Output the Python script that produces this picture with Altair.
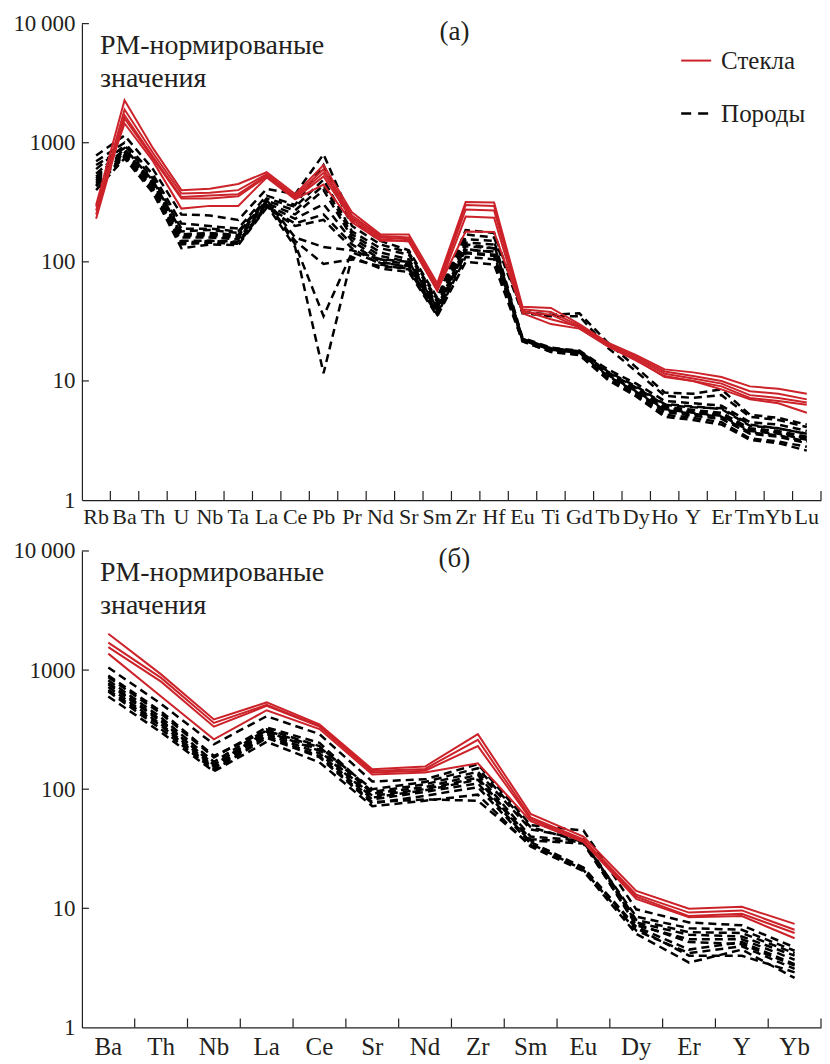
import altair as alt
import pandas as pd

# ---------------- data ----------------
A_CATS = ["Rb", "Ba", "Th", "U", "Nb", "Ta", "La", "Ce", "Pb", "Pr", "Nd", "Sr", "Sm",
          "Zr", "Hf", "Eu", "Ti", "Gd", "Tb", "Dy", "Ho", "Y", "Er", "Tm", "Yb", "Lu"]
B_CATS = ["Ba", "Th", "Nb", "La", "Ce", "Sr", "Nd", "Zr", "Sm", "Eu", "Dy", "Er", "Y", "Yb"]

# panel (а) — glasses (Стекла)
A_GLASS = {
    "g1": [300, 2270, 900, 400, 410, 450, 565, 370, 650, 260, 170, 170, 66, 318, 315, 42, 41, 30, 21, 16.5, 12.5, 11.8, 10.8, 9.0, 8.6, 7.8],
    "g2": [270, 1900, 820, 375, 380, 400, 545, 355, 600, 245, 165, 160, 62, 300, 295, 40, 38, 29, 20.5, 16, 12, 11, 10, 8.2, 7.8, 7.0],
    "g3": [250, 1700, 760, 350, 360, 370, 530, 345, 560, 235, 160, 155, 60, 275, 270, 39, 33, 28.5, 20, 15.5, 11.5, 10.5, 9.5, 7.6, 7.2, 6.6],
    "g4": [290, 1450, 700, 280, 295, 295, 510, 335, 445, 215, 150, 150, 57, 240, 235, 37, 30, 27.5, 19.5, 14.8, 11, 10, 9, 7.2, 6.8, 6.3],
    "g5": [230, 1600, 740, 340, 340, 355, 520, 340, 520, 225, 155, 148, 58, 180, 178, 38, 36, 28, 19.8, 15, 10.8, 10, 8.5, 7.0, 6.5, 5.4],
}
# panel (а) — rocks (Породы)
A_ROCK = {
    "r1": [780, 1150, 600, 250, 245, 225, 410, 370, 800, 225, 150, 125, 50, 185, 175, 38, 36, 37, 21, 13, 8.0, 7.8, 8.5, 5.2, 4.9, 4.3],
    "r2": [700, 1000, 540, 210, 200, 190, 360, 300, 650, 200, 140, 120, 48, 170, 160, 37, 35, 35, 19, 12, 7.5, 7.2, 7.6, 5.0, 4.7, 4.1],
    "r3": [600, 950, 500, 190, 190, 180, 340, 290, 490, 180, 130, 115, 46, 155, 150, 23, 19, 18, 12.5, 9.5, 6.8, 6.5, 6.2, 4.5, 4.3, 3.8],
    "r4": [550, 880, 470, 170, 170, 165, 325, 270, 440, 170, 120, 105, 44, 145, 140, 22.5, 18.8, 17.8, 12, 9.0, 6.4, 6.1, 5.8, 4.2, 4.0, 3.6],
    "r5": [500, 830, 450, 160, 160, 155, 310, 250, 400, 160, 112, 100, 42, 135, 130, 22.5, 18.6, 17.6, 11.6, 8.6, 6.1, 5.7, 5.4, 4.0, 3.8, 3.4],
    "r6": [460, 790, 420, 150, 150, 148, 300, 230, 305, 150, 105, 95, 40, 126, 122, 22, 18.3, 17.3, 11.2, 8.2, 5.8, 5.4, 5.1, 3.8, 3.6, 3.2],
    "r7": [430, 760, 400, 140, 145, 142, 290, 210, 250, 140, 100, 90, 38, 118, 112, 22, 18, 17, 10.8, 7.9, 5.5, 5.1, 4.8, 3.6, 3.4, 3.0],
    "r8": [400, 740, 380, 130, 140, 138, 285, 200, 225, 130, 95, 86, 36, 110, 105, 21.5, 17.6, 16.6, 10.4, 7.6, 5.2, 4.9, 4.5, 3.3, 3.1, 2.8],
    "r9": [650, 900, 480, 180, 185, 175, 330, 160, 133, 125, 105, 100, 41, 140, 130, 22.5, 18.5, 17.5, 11.8, 8.8, 6.3, 6.0, 5.9, 4.3, 4.0, 3.6],
    "r10": [480, 820, 440, 165, 165, 160, 315, 150, 96, 105, 92, 88, 37, 120, 115, 22, 18.2, 17.2, 11, 8.1, 5.7, 5.3, 5.0, 3.7, 3.5, 3.1],
    "r11": [520, 860, 460, 170, 175, 168, 320, 140, 35, 120, 98, 92, 39, 128, 120, 22.2, 18.4, 17.4, 11.4, 8.4, 5.9, 5.5, 5.2, 3.9, 3.7, 3.3],
    "r12": [440, 780, 410, 145, 150, 145, 300, 133, 11.6, 110, 88, 82, 35, 100, 95, 21.5, 17.5, 16.5, 10.2, 7.4, 5.0, 4.7, 4.3, 3.2, 3.0, 2.6],
}

# panel (б) — glasses
B_GLASS = {
    "g1": [2020, 920, 385, 535, 350, 147, 155, 290, 62, 40, 14, 9.9, 10.3, 7.4],
    "g2": [1700, 860, 360, 510, 340, 142, 148, 260, 58, 38, 13, 9.2, 9.6, 6.6],
    "g3": [1560, 800, 335, 500, 335, 138, 143, 230, 56, 37, 12.5, 8.6, 9.0, 6.2],
    "g4": [1375, 600, 262, 460, 320, 133, 138, 165, 54, 36, 12, 8.4, 8.6, 5.6],
}
# panel (б) — rocks
B_ROCK = {
    "r1": [1050, 520, 238, 410, 290, 116, 121, 162, 50, 45, 9.8, 7.6, 7.2, 4.7],
    "r2": [870, 430, 185, 330, 245, 95, 110, 140, 46, 38, 8.0, 6.3, 6.2, 4.2],
    "r3": [820, 400, 170, 318, 230, 92, 104, 132, 40, 37, 7.6, 6.0, 5.8, 4.0],
    "r4": [760, 370, 162, 300, 215, 88, 100, 125, 38, 36, 7.2, 5.5, 5.5, 3.7],
    "r5": [720, 350, 155, 290, 200, 82, 95, 112, 36, 22, 7.0, 4.5, 5.2, 3.4],
    "r6": [660, 320, 145, 270, 185, 76, 88, 104, 35, 21, 6.5, 4.2, 4.8, 3.1],
    "r7": [600, 300, 141, 250, 168, 72, 80, 90, 33, 20.5, 6.1, 3.5, 4.5, 2.6],
    "r8": [680, 340, 150, 280, 190, 78, 82, 80, 34, 21.5, 6.8, 4.0, 4.0, 2.9],
    "r9": [900, 450, 190, 310, 225, 100, 115, 150, 48, 36, 8.5, 6.8, 6.6, 4.4],
    "r10": [780, 380, 160, 305, 210, 85, 98, 120, 37, 35, 7.4, 5.2, 5.0, 3.3],
}

Y_TICKS = [1, 10, 100, 1000, 10000]
Y_INNER_TICKS = [10, 100, 1000, 10000]

ANNOT_1 = "РМ-нормированые"
ANNOT_2 = "значения"
LEG_GLASS = "Стекла"
LEG_ROCK = "Породы"

# ---------------- style ----------------
RED = "#cc2229"
INK = "#231f20"
FONT = "Liberation Serif"
W = 740
H = 477


def long_df(cats, series):
    rows = []
    for name, vals in series.items():
        for i, (c, v) in enumerate(zip(cats, vals)):
            rows.append({"cat": c, "idx": i, "value": v, "id": name})
    return pd.DataFrame(rows)


def panel(cats, glass, rocks, tag, xfont, xpad, legend):
    xscale = alt.Scale(type="band", domain=cats, paddingInner=0, paddingOuter=0)
    yscale = alt.Scale(type="log", domain=[1, 10000], nice=False)
    xaxis = alt.Axis(title=None, labelAngle=0, labelOverlap=False, labelFontSize=xfont,
                     labelPadding=xpad, labelBaseline="top", ticks=False, grid=False,
                     labelFont=FONT, domainColor=INK, domainWidth=1.2)
    yaxis = alt.Axis(title=None, values=Y_TICKS, labelFontSize=23, labelPadding=7,
                     labelFlush=False, labelOverlap=False, ticks=False, grid=False,
                     minExtent=74, maxExtent=74, labelFont=FONT, domainColor=INK,
                     domainWidth=1.2,
                     labelExpr="datum.value == 10000 ? '10\u2009000' : format(datum.value, 'd')")

    def lines(df, **mk):
        return alt.Chart(df).mark_line(**mk).encode(
            x=alt.X("cat:N", scale=xscale, sort=cats, bandPosition=0.5, axis=xaxis),
            y=alt.Y("value:Q", scale=yscale, axis=yaxis),
            detail="id:N",
            order="idx:Q",
        )

    rock = lines(long_df(cats, rocks), color="black", strokeWidth=2.5, strokeDash=[8, 5])
    gl = lines(long_df(cats, glass), color=RED, strokeWidth=2)

    xt = alt.Chart(pd.DataFrame({"cat": cats})).mark_rule(color=INK, strokeWidth=1.2).encode(
        x=alt.X("cat:N", scale=xscale, sort=cats, bandPosition=1, axis=xaxis),
        y=alt.value(H), y2=alt.value(H - 9))
    yt = alt.Chart(pd.DataFrame({"value": Y_INNER_TICKS})).mark_rule(color=INK, strokeWidth=1.2).encode(
        y=alt.Y("value:Q", scale=yscale, axis=yaxis),
        x=alt.value(0), x2=alt.value(7))

    def txt(s, x, y, align="left", size=25):
        return alt.Chart(pd.DataFrame({"t": [s]})).mark_text(
            font=FONT, fontSize=size, color=INK, align=align, baseline="middle").encode(
            x=alt.value(x), y=alt.value(y), text="t:N")

    layers = [rock, gl, xt, yt,
              txt(ANNOT_1, 18, 22, size=28), txt(ANNOT_2, 18, 55, size=28),
              txt(tag, 373, 8, align="center", size=27)]
    if legend:
        seg = pd.DataFrame({"k": [0]})
        layers += [
            alt.Chart(seg).mark_rule(color=RED, strokeWidth=2).encode(
                x=alt.value(600), x2=alt.value(630), y=alt.value(37)),
            alt.Chart(seg).mark_rule(color="black", strokeWidth=2.5, strokeDash=[10, 7]).encode(
                x=alt.value(600), x2=alt.value(627), y=alt.value(90)),
            txt(LEG_GLASS, 640, 37, size=25),
            txt(LEG_ROCK, 640, 90, size=25),
        ]
    return alt.layer(*layers).properties(width=W, height=H)


top = panel(A_CATS, A_GLASS, A_ROCK, "(а)", 22, 6, True)
bottom = panel(B_CATS, B_GLASS, B_ROCK, "(б)", 25, 7, False)

chart = alt.vconcat(top, bottom, spacing=13).properties(
    padding={"left": 0, "right": 0, "top": 4, "bottom": 0}
).configure(font=FONT).configure_text(font=FONT).configure_view(stroke=None).configure_axis(
    domainColor=INK, domainWidth=1.2, labelFont=FONT, labelColor=INK, grid=False
)

chart.save("out.html", embed_options={"renderer": "svg", "actions": False})
